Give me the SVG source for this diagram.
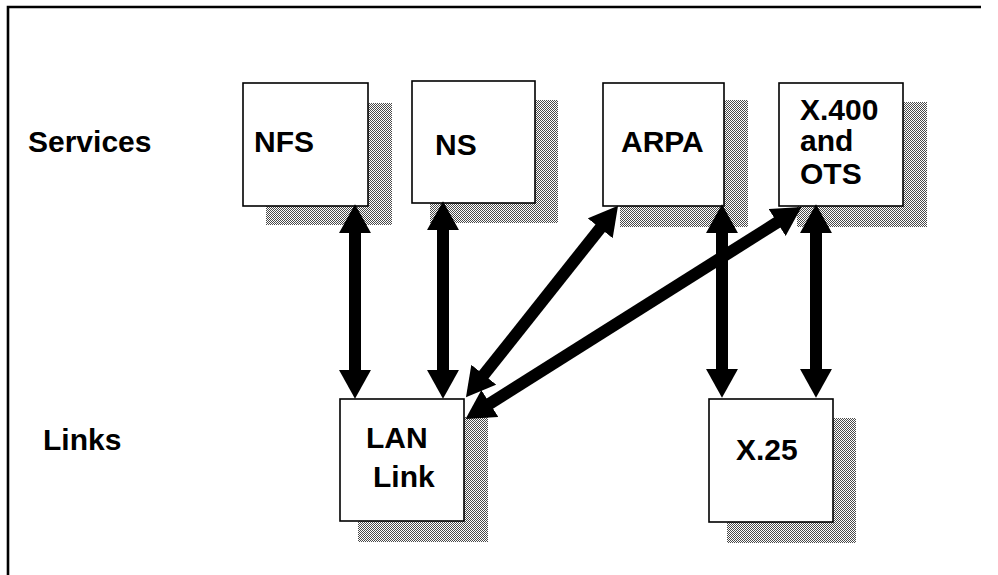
<svg xmlns="http://www.w3.org/2000/svg" width="998" height="575" viewBox="0 0 998 575">
  <defs>
    <!-- halftone stipple used for the drop shadows -->
    <pattern id="dots" width="2" height="2" patternUnits="userSpaceOnUse">
      <rect width="2" height="2" fill="#ffffff"/>
      <rect x="0" y="0" width="1" height="1" fill="#4a4a4a"/>
      <rect x="1" y="1" width="1" height="1" fill="#4a4a4a"/>
    </pattern>
    <marker id="head" markerUnits="userSpaceOnUse" markerWidth="30" markerHeight="32" refX="1" refY="15" orient="auto-start-reverse" viewBox="0 0 28 30">
      <path d="M0,0 L27,15 L0,30 z" fill="#000"/>
    </marker>
    <style>
      .box { fill: #ffffff; stroke: #000; stroke-width: 1.6; }
      .shadow { fill: url(#dots); stroke: none; }
      .lbl { font-family: "Liberation Sans", Arial, sans-serif; font-weight: bold; font-size: 30px; fill: #000; }
      .link { stroke: #000; stroke-width: 12; fill: none; marker-start: url(#head); marker-end: url(#head); }
    </style>
  </defs>

  <rect width="998" height="575" fill="#ffffff"/>

  <!-- open frame: left and top edges only -->
  <path d="M8,575 L8,7 L981,7" fill="none" stroke="#000" stroke-width="2.6"/>

  <text class="lbl" x="28" y="152">Services</text>
  <text class="lbl" x="43" y="450">Links</text>

  <g id="nfs">
    <rect class="shadow" x="266" y="103" width="126" height="122"/>
    <rect class="box" x="243" y="83" width="125" height="123"/>
    <text class="lbl" x="254" y="152">NFS</text>
  </g>

  <g id="ns">
    <rect class="shadow" x="430" y="100" width="128" height="123"/>
    <rect class="box" x="412" y="81" width="123" height="122"/>
    <text class="lbl" x="435" y="155">NS</text>
  </g>

  <g id="arpa">
    <rect class="shadow" x="620" y="100" width="128" height="127"/>
    <rect class="box" x="603" y="83" width="121" height="123"/>
    <text class="lbl" x="621" y="152">ARPA</text>
  </g>

  <g id="x400">
    <rect class="shadow" x="797" y="102" width="130" height="125"/>
    <rect class="box" x="779" y="83" width="124" height="123"/>
    <text class="lbl" x="800" y="120">X.400</text>
    <text class="lbl" x="800" y="151">and</text>
    <text class="lbl" x="800" y="184">OTS</text>
  </g>

  <g id="lan">
    <rect class="shadow" x="358" y="417" width="130" height="125"/>
    <rect class="box" x="340" y="399" width="124" height="122"/>
    <text class="lbl" x="366" y="448">LAN</text>
    <text class="lbl" x="373" y="487">Link</text>
  </g>

  <g id="x25">
    <rect class="shadow" x="727" y="418" width="129" height="125"/>
    <rect class="box" x="709" y="399" width="124" height="123"/>
    <text class="lbl" x="736" y="460">X.25</text>
  </g>

  <g id="connectors">
    <line class="link" x1="355" y1="232" x2="355" y2="371"/>
    <line class="link" x1="443" y1="229" x2="443" y2="371"/>
    <line class="link" x1="722" y1="232" x2="722" y2="370"/>
    <line class="link" x1="816" y1="232" x2="816" y2="370"/>
    <line class="link" x1="600.8" y1="227.4" x2="483.2" y2="375.6"/>
    <line class="link" x1="778" y1="221.9" x2="489" y2="404.1"/>
  </g>
</svg>
